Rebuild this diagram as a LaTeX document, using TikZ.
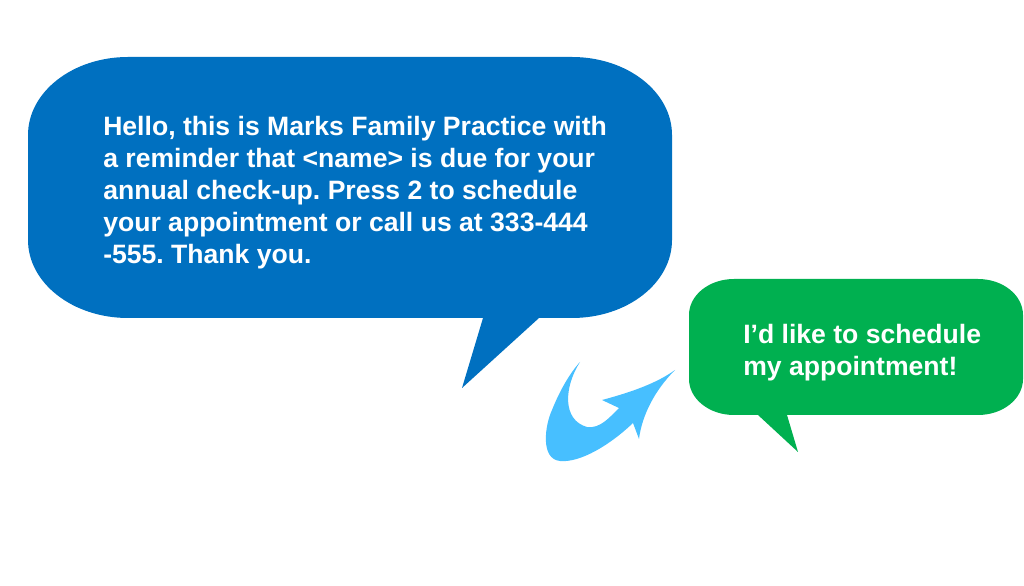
\documentclass[tikz,border=0pt]{standalone}
\usepackage{fontspec}
\setmainfont{Liberation Sans}
\usepackage{tikz}
\usetikzlibrary{calc}
\definecolor{callblue}{HTML}{0070C0}
\definecolor{replygreen}{HTML}{00B050}
\definecolor{arrowblue}{RGB}{71,191,255}
\frenchspacing
\begin{document}
\begin{tikzpicture}[x=0.025cm, y=0.025cm,
	bubbletext/.style={anchor=base west, inner sep=0, align=left, text=white,
		font=\fontsize{18.9}{22.76}\selectfont\bfseries}]
			%%%%% START %%%%%
			
			\useasboundingbox (0, 0) rectangle (1024, 585);
			
			% blue bubble with tail
			\fill[callblue] (128, 528) -- (572, 528)
				arc[start angle=90, end angle=0, x radius=100, y radius=78] -- (672, 345)
				arc[start angle=0, end angle=-90, x radius=100, y radius=78] -- (539, 267)
				-- (462, 197) -- (483, 267) -- (128, 267)
				arc[start angle=270, end angle=180, x radius=100, y radius=78] -- (28, 450)
				arc[start angle=180, end angle=90, x radius=100, y radius=78] -- cycle;
			
			% green bubble with tail
			\fill[replygreen] (734, 306) -- (978, 306)
				arc[start angle=90, end angle=0, x radius=45, y radius=36] -- (1023, 206)
				arc[start angle=0, end angle=-90, x radius=45, y radius=36] -- (787, 170)
				-- (798, 133) -- (758, 170) -- (734, 170)
				arc[start angle=270, end angle=180, x radius=45, y radius=36] -- (689, 270)
				arc[start angle=180, end angle=90, x radius=45, y radius=36] -- cycle;
			
			% curved arrow
			\fill[arrowblue] (580, 223) .. controls (564, 198) and (562, 165) .. (587, 158)
				.. controls (600, 156) and (610, 168) .. (619, 177) -- (602, 185)
				.. controls (632, 193) and (657, 202) .. (675, 215)
				.. controls (655, 195) and (642, 170) .. (639, 146) -- (633, 162)
				.. controls (610, 140) and (580, 122) .. (560, 124)
				.. controls (540, 126) and (545, 160) .. (552, 175)
				.. controls (560, 195) and (570, 212) .. (580, 223) -- cycle;
			
			\node[bubbletext] (reminder) at (103, 321) {Hello, this is Marks Family Practice with\\
				a reminder that <name> is due for your\\
				annual check-up. Press 2 to schedule\\
				your appointment or call us at 333-444\\
				-555. Thank you.};
			
			\node[bubbletext] (answer) at (743, 209) {I’d like to schedule\\
				my appointment!};
			
			%%%%% END %%%%%
		\end{tikzpicture}
\end{document}
